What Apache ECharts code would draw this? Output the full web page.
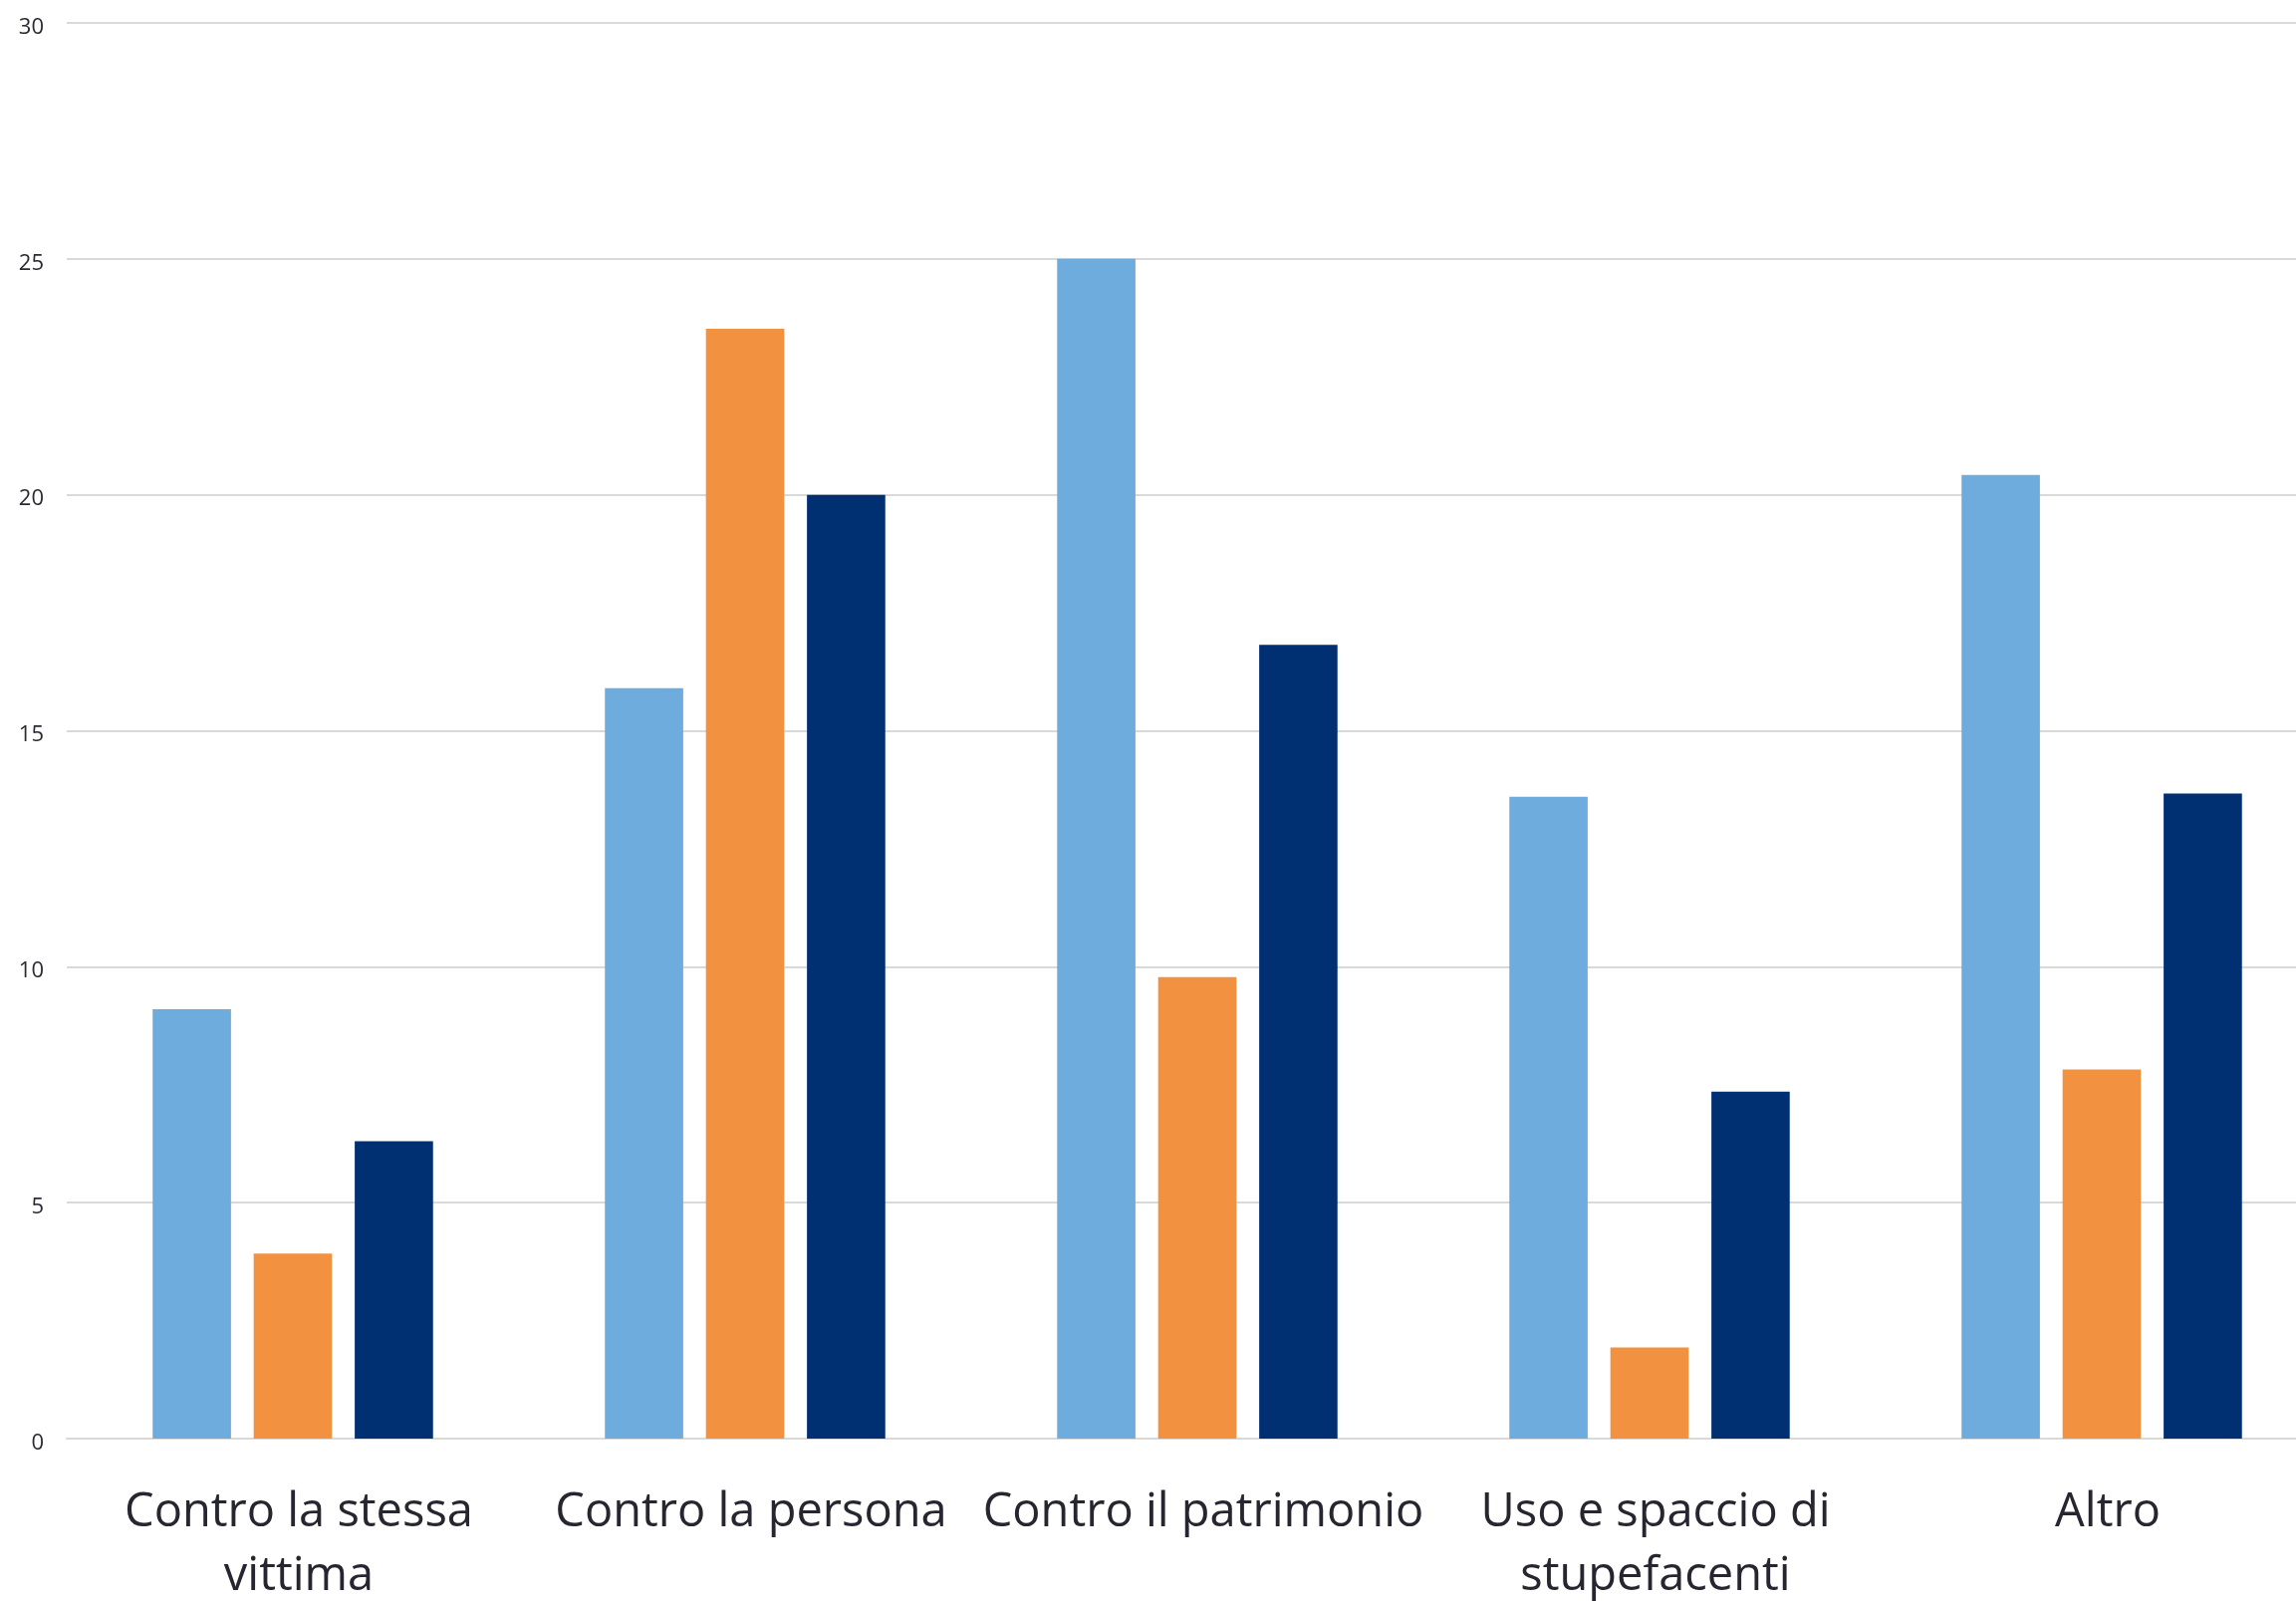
<!DOCTYPE html>
<html>
<head>
<meta charset="utf-8">
<script src="https://cdn.jsdelivr.net/npm/echarts@6/dist/echarts.min.js"></script>
<style>
html,body{margin:0;padding:0;background:#fff;}
#chart{width:2305px;height:1607px;}
</style>
</head>
<body>
<div id="chart"></div>
<script>
const categories = ['Contro la stessa\nvittima', 'Contro la persona', 'Contro il patrimonio', 'Uso e spaccio di\nstupefacenti', 'Altro'];
const seriesLightBlue = [9.1, 15.9, 25.0, 13.6, 20.42];
const seriesOrange = [3.92, 23.52, 9.78, 1.93, 7.82];
const seriesNavy = [6.3, 20.0, 16.82, 7.35, 13.67];
const yTicks = [0, 5, 10, 15, 20, 25, 30];

const chart = echarts.init(document.getElementById('chart'));
const font = '"Open Sans", "Liberation Sans", Arial, sans-serif';
function bar(name, data, color) {
  return {
    name: name, type: 'bar', data: data,
    barGap: '29%', barCategoryGap: '38%',
    itemStyle: { color: color },
    animation: false
  };
}
chart.setOption({
  backgroundColor: '#ffffff',
  animation: false,
  grid: { left: 67, top: 23, right: -32, bottom: 163, containLabel: false, outerBoundsMode: 'none' },
  xAxis: {
    type: 'category',
    data: categories,
    axisLine: { show: true, lineStyle: { color: '#d9d9d9', width: 2 } },
    axisTick: { show: false },
    axisLabel: {
      fontFamily: font, fontSize: 47, color: '#262630',
      lineHeight: 64, margin: 43, interval: 0,
      padding: [0, 0, 0, 12]
    }
  },
  yAxis: {
    type: 'value',
    min: yTicks[0], max: yTicks[yTicks.length - 1], interval: 5,
    axisLine: { show: false },
    axisTick: { show: false },
    splitLine: { show: true, lineStyle: { color: '#d9d9d9', width: 2 } },
    axisLabel: {
      margin: 23,
      formatter: function (v) { return '{t|' + v + '}'; },
      rich: { t: { fontFamily: font, fontSize: 22, color: '#2a2a35', padding: [9, 0, 0, 0] } }
    }
  },
  series: [
    bar('Serie 1', seriesLightBlue, '#6dacdc'),
    bar('Serie 2', seriesOrange, '#f29241'),
    bar('Serie 3', seriesNavy, '#002f72')
  ]
});
</script>
</body>
</html>
